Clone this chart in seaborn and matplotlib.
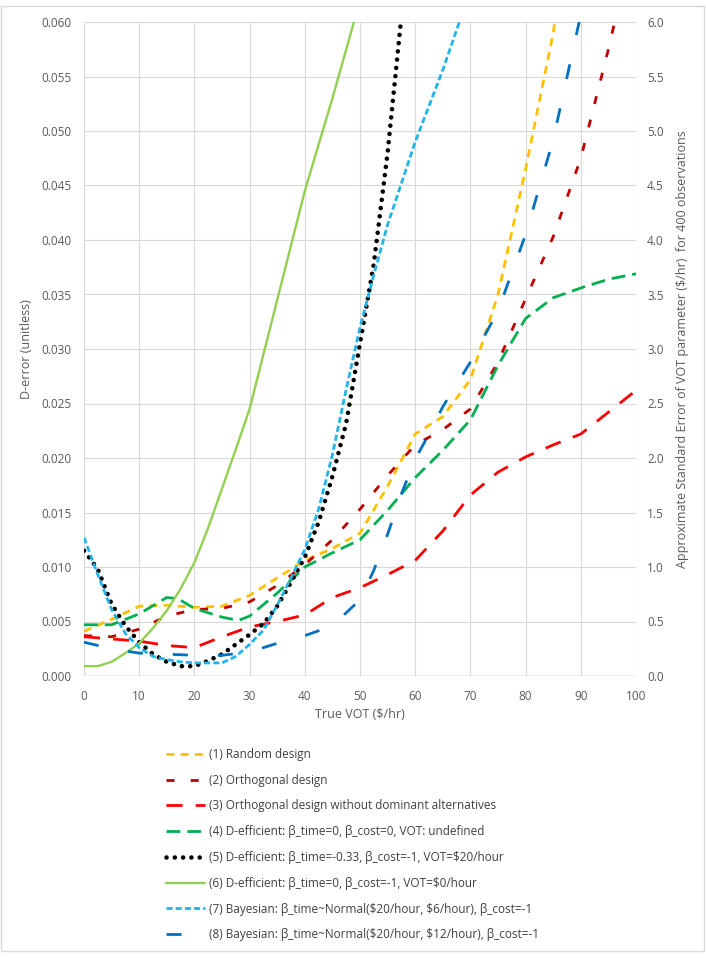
import numpy as np
import pandas as pd
import seaborn as sns
import matplotlib.pyplot as plt
from matplotlib.patches import Rectangle
from matplotlib.ticker import FormatStrFormatter, MultipleLocator

# values (D-error units, right axis = x100)
vot_1 = [0, 5, 10, 15, 20, 25, 30, 35, 40, 45, 50, 55, 60, 65, 70, 75, 80, 85, 85.3]
derr_1 = [0.0041, 0.0052, 0.0064, 0.0065, 0.0063, 0.0064, 0.0074, 0.0090, 0.0106, 0.0117,
          0.0131, 0.0174, 0.0222, 0.0238, 0.0272, 0.0350, 0.0465, 0.0590, 0.0600]

vot_2 = [0, 5, 10, 15, 20, 25, 30, 35, 40, 45, 50, 55, 60, 65, 70, 75, 80, 85, 90, 95, 96]
derr_2 = [0.0037, 0.0036, 0.0043, 0.0055, 0.0061, 0.0062, 0.0068, 0.0083, 0.0102, 0.0125,
          0.0153, 0.0184, 0.0212, 0.0226, 0.0245, 0.0288, 0.0346, 0.0403, 0.0475, 0.0575, 0.0597]

vot_3 = [0, 5, 10, 15, 20, 25, 30, 35, 40, 45, 50, 55, 60, 65, 70, 75, 80, 85, 90, 95, 100]
derr_3 = [0.0036, 0.0034, 0.0032, 0.0028, 0.0026, 0.0036, 0.0045, 0.0050, 0.0056, 0.0072,
          0.0081, 0.0093, 0.0106, 0.0133, 0.0166, 0.0187, 0.0201, 0.0212, 0.0222, 0.0242, 0.0262]

vot_4 = [0, 5, 10, 15, 17, 20, 25, 28, 30, 35, 40, 45, 50, 55, 60, 65, 70, 75, 80, 85, 90, 95, 100]
derr_4 = [0.0047, 0.0047, 0.0057, 0.0072, 0.0071, 0.0062, 0.0054, 0.0051, 0.0055, 0.0076,
          0.0100, 0.0113, 0.0125, 0.0152, 0.0182, 0.0207, 0.0235, 0.0285, 0.0328, 0.0347,
          0.0356, 0.0364, 0.0369]

vot_5 = [0, 2.5, 5, 7.5, 10, 12.5, 15, 17.5, 20, 22.5, 25, 27.5, 30, 32.5, 35, 37.5, 40,
         42.5, 45, 47.5, 50, 52.5, 55, 57.4]
derr_5 = [0.0115, 0.0098, 0.0066, 0.0046, 0.0031, 0.0020, 0.0013, 0.0009, 0.0009, 0.0014,
          0.0020, 0.0029, 0.0038, 0.0048, 0.0064, 0.0086, 0.0109, 0.0141, 0.0183, 0.0232,
          0.0305, 0.0378, 0.0480, 0.0600]

vot_6 = [0, 2.5, 5, 7.5, 10, 12.5, 15, 17.5, 20, 22.5, 25, 27.5, 30, 35, 40, 45, 48.9]
derr_6 = [0.0009, 0.0009, 0.0013, 0.0021, 0.0030, 0.0044, 0.0060, 0.0080, 0.0104, 0.0136,
          0.0172, 0.0208, 0.0245, 0.0345, 0.0445, 0.0530, 0.0600]

vot_7 = [0, 2.5, 5, 7.5, 10, 12.5, 15, 17.5, 20, 22.5, 25, 27.5, 30, 32.5, 35, 37.5, 40,
         42.5, 45, 47.5, 50, 52.5, 55, 60, 65, 68]
derr_7 = [0.0127, 0.0093, 0.0061, 0.0039, 0.0026, 0.0018, 0.0015, 0.0013, 0.0012, 0.0012,
          0.0012, 0.0018, 0.0029, 0.0042, 0.0065, 0.0090, 0.0116, 0.0153, 0.0203, 0.0263,
          0.0320, 0.0368, 0.0414, 0.0490, 0.0556, 0.0600]

vot_8 = [0, 5, 10, 15, 20, 25, 30, 35, 40, 45, 50, 52.5, 55, 57.5, 60, 62.5, 65, 70, 75, 80, 85, 89.7]
derr_8 = [0.0031, 0.0025, 0.0021, 0.0020, 0.0019, 0.0019, 0.0022, 0.0030, 0.0037, 0.0046,
          0.0070, 0.0097, 0.0130, 0.0167, 0.0199, 0.0222, 0.0247, 0.0288, 0.0335, 0.0405,
          0.0492, 0.0600]

labels = ['(1) Random design',
          '(2) Orthogonal design',
          '(3) Orthogonal design without dominant alternatives',
          '(4) D-efficient: β_time=0, β_cost=0, VOT: undefined',
          '(5) D-efficient: β_time=-0.33, β_cost=-1, VOT=$20/hour',
          '(6) D-efficient: β_time=0, β_cost=-1, VOT=$0/hour',
          '(7) Bayesian: β_time~Normal($20/hour, $6/hour), β_cost=-1',
          '(8) Bayesian: β_time~Normal($20/hour, $12/hour), β_cost=-1']

sns.set_theme(style='white')
plt.rcParams['font.family'] = ['Open Sans', 'DejaVu Sans']
plt.rcParams['text.parse_math'] = False

fig = plt.figure(figsize=(7.06, 9.58), dpi=100)
ax = fig.add_axes([84/706, 1-676/958, 552/706, 654/958])

gray = '#595959'
lw = 2.0
series = [
    (vot_1, derr_1, '#FFC000', dict(lw=lw, ls=(0, (2.9, 2.2)))),
    (vot_2, derr_2, '#C00000', dict(lw=lw, ls=(0, (2.9, 5.8)))),
    (vot_3, derr_3, '#FF0000', dict(lw=lw, ls=(0, (5.8, 4.7)))),
    (vot_4, derr_4, '#00B050', dict(lw=lw, ls=(0, (5.0, 2.5)))),
    (vot_5, derr_5, '#000000', dict(lw=3.3, ls=(0, (0.01, 1.8)), dash_capstyle='round')),
    (vot_6, derr_6, '#92D050', dict(lw=1.7, ls='-')),
    (vot_7, derr_7, '#1FB4EA', dict(lw=lw, ls=(0, (2.2, 1.1)))),
    (vot_8, derr_8, '#0070C0', dict(lw=lw, ls=(0, (5.4, 10.8)))),
]
for (x, y, c, kw), lab in zip(series, labels):
    sns.lineplot(x=x, y=y, color=c, label=lab, ax=ax, **kw)

ax.set_xlim(0, 100)
ax.set_ylim(0, 0.06)
ax.xaxis.set_major_locator(MultipleLocator(10))
ax.yaxis.set_major_locator(MultipleLocator(0.005))
ax.yaxis.set_major_formatter(FormatStrFormatter('%.3f'))
ax.grid(True, color='#D9D9D9', lw=0.8)
for s in ax.spines.values():
    s.set_visible(False)
ax.axhline(0, color='#BFBFBF', lw=1.0, zorder=1)
ax.tick_params(axis='both', length=0, labelsize=8.5, labelcolor=gray)
ax.tick_params(axis='x', pad=10)
ax.tick_params(axis='y', pad=9)
ax.set_xlabel('True VOT ($/hr)', fontsize=9, color=gray, labelpad=4)
ax.set_ylabel('D-error (unitless)', fontsize=9, color=gray, labelpad=6)

ax2 = ax.twinx()
ax2.set_ylim(0, 6)
ax2.yaxis.set_major_locator(MultipleLocator(0.5))
ax2.yaxis.set_major_formatter(FormatStrFormatter('%.1f'))
for s in ax2.spines.values():
    s.set_visible(False)
ax2.tick_params(axis='y', length=0, labelsize=8.5, labelcolor=gray, pad=8)
ax2.set_ylabel('Approximate Standard Error of VOT parameter ($/hr)  for 400 observations',
               fontsize=9, color=gray, labelpad=9)

handles, labs = ax.get_legend_handles_labels()
ax.get_legend().remove()
fig.legend(handles, labs, loc='upper left', bbox_to_anchor=(166/706, 1-748/958),
           frameon=False, fontsize=8.5, handlelength=3.3, handletextpad=0.32,
           labelspacing=1.08, borderpad=0, borderaxespad=0, labelcolor='#404040')

fig.patches.append(Rectangle((1/706, 1-951/958), 703/706, 945/958, transform=fig.transFigure,
                             fill=False, edgecolor='#D9D9D9', lw=1))

fig.savefig('out.png', dpi=100)
